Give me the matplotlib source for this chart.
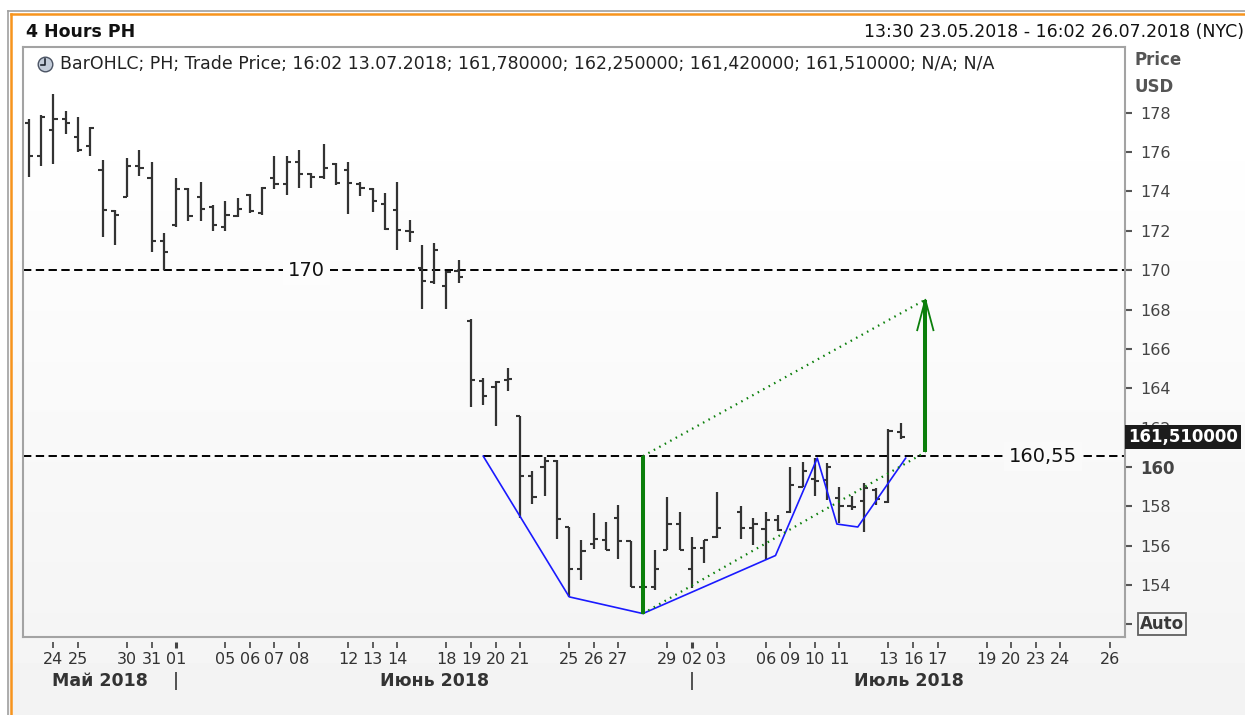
import numpy as np
import matplotlib
matplotlib.use('Agg')
import matplotlib.pyplot as plt
from matplotlib.lines import Line2D
from matplotlib.patches import Rectangle

plt.rcParams['font.family'] = ['DejaVu Sans']
plt.rcParams['lines.scale_dashes'] = False

# ------------------------------------------------------------------ data
trading_days = ['23.05', '24.05', '25.05', '29.05', '30.05', '31.05', '01.06', '04.06',
                '05.06', '06.06', '07.06', '08.06', '11.06', '12.06', '13.06', '14.06',
                '15.06', '18.06', '19.06', '20.06', '21.06', '22.06', '25.06', '26.06',
                '27.06', '28.06', '29.06', '02.07', '03.07', '05.07', '06.07', '09.07',
                '10.07', '11.07', '12.07', '13.07', '16.07', '17.07', '18.07', '19.07',
                '20.07', '23.07', '24.07', '25.07', '26.07']
short_sessions = ['03.07']          # days with a single 4-hour bar
last_bar_day = '13.07'

opens = [177.5, 175.8, 177.1, 177.7, 176.75, 176.3, 175.1, 173.0, 173.7, 175.3,
         174.7, 171.5, 172.3, 174.1, 173.7, 173.2, 172.2, 172.75, 173.8, 172.9,
         174.7, 174.4, 175.5, 174.9, 174.75, 175.4, 175.1, 174.4, 174.1, 173.35,
         173.05, 172.0, 170.1, 169.4, 169.2, 169.95, 167.4, 164.35, 164.05, 164.4,
         162.6, 159.55, 160.0, 160.3, 156.95, 154.8, 156.1, 156.3, 157.4, 156.25,
         153.9, 153.9, 155.8, 157.1, 154.8, 155.9, 156.45,
         157.7, 156.9, 156.85, 157.3, 157.7, 159.0, 159.4, 159.35, 158.4, 158.0,
         158.25, 158.85, 158.2, 161.78]
highs = [177.7, 177.9, 178.95, 178.1, 177.8, 177.3, 175.6, 173.05, 175.7, 176.1,
         175.5, 171.9, 174.7, 174.2, 174.5, 173.3, 173.5, 173.65, 173.85, 174.25,
         175.8, 175.8, 176.1, 174.95, 176.4, 175.45, 175.5, 174.5, 174.2, 173.9,
         174.5, 172.55, 171.3, 171.4, 169.95, 170.5, 167.5, 164.5, 164.35, 165.05,
         162.6, 159.8, 160.5, 160.35, 156.95, 156.3, 157.65, 157.2, 158.05, 156.25,
         154.4, 155.8, 158.45, 157.7, 156.45, 156.3, 158.75,
         158.0, 157.4, 157.7, 157.55, 160.0, 160.25, 160.45, 160.2, 159.0, 158.55,
         159.2, 158.95, 161.95, 162.25]
lows = [174.75, 175.3, 175.4, 176.9, 176.0, 175.8, 171.7, 171.3, 173.7, 174.8,
        170.9, 170.0, 172.2, 172.5, 172.5, 172.0, 172.0, 172.7, 172.9, 172.8,
        174.1, 173.8, 174.2, 174.2, 174.65, 174.35, 172.85, 173.75, 172.95, 172.05,
        171.05, 171.45, 168.05, 169.3, 168.05, 169.35, 163.05, 163.15, 162.1, 163.85,
        157.4, 158.1, 158.5, 156.35, 153.4, 154.25, 155.85, 155.8, 155.3, 153.88,
        152.55, 153.75, 155.78, 155.78, 153.83, 155.13, 156.37,
        156.35, 156.05, 155.25, 156.75, 157.65, 159.0, 158.5, 158.3, 157.15, 157.8,
        156.7, 158.05, 158.15, 161.42]
closes = [175.8, 177.8, 177.7, 177.5, 176.1, 177.2, 173.05, 172.8, 175.3, 175.2,
          171.5, 170.9, 174.1, 172.75, 173.1, 172.3, 172.8, 173.1, 173.0, 174.2,
          174.4, 175.5, 174.9, 174.75, 175.2, 174.45, 174.45, 174.2, 173.5, 172.1,
          172.05, 171.95, 169.45, 171.0, 169.9, 169.65, 164.4, 163.6, 164.3, 164.45,
          159.55, 158.45, 160.3, 157.35, 154.8, 155.75, 156.35, 155.8, 156.25, 153.9,
          153.9, 154.8, 157.1, 155.8, 155.9, 156.28, 156.9,
          156.9, 157.1, 157.3, 156.8, 159.1, 159.8, 159.3, 160.0, 158.0, 157.95,
          158.95, 158.35, 161.85, 161.51]

tick_days = ['24.05', '25.05', '30.05', '31.05', '01.06', '05.06', '06.06', '07.06',
             '08.06', '12.06', '13.06', '14.06', '18.06', '19.06', '20.06', '21.06',
             '25.06', '26.06', '27.06', '29.06', '02.07', '03.07', '06.07', '09.07',
             '10.07', '11.07', '13.07', '16.07', '17.07', '19.07', '20.07', '23.07',
             '24.07', '26.07']
month_starts = ['01.06', '02.07']
month_labels = ['Май 2018', 'Июнь 2018', 'Июль 2018']

price_ticks = [154, 156, 158, 160, 162, 164, 166, 168, 170, 172, 174, 176, 178]
bold_tick = 160
last_price = 161.51
last_price_label = '161,510000'

level_resist = 170.0
level_neck = 160.55
level_labels = ['170', '160,55']

# pattern drawn on the chart (positions in trading-day units)
pattern_x = [18.5, 22.0, 25.0, 30.4, 32.1, 32.9, 33.75, 35.7]
pattern_y = [160.55, 153.4, 152.55, 155.5, 160.45, 157.1, 156.95, 160.45]
depth_x = 25.0
depth_lo, depth_hi = 152.55, 160.55
target_x = 36.5
target_lo, target_hi = 160.75, 168.5

title = '4 Hours PH'
period = '13:30 23.05.2018 - 16:02 26.07.2018 (NYC)'
legend_text = ('BarOHLC; PH; Trade Price; 16:02 13.07.2018; 161,780000; 162,250000; '
               '161,420000; 161,510000; N/A; N/A')

# ------------------------------------------------------------------ layout helpers
W, H = 1245, 715
AX_L, AX_R, AX_T, AX_B = 23, 1125, 47, 637


def fx(px):
    return px / W


def fy(py):
    return 1 - py / H


def axx(px):
    return (px - AX_L) / (AX_R - AX_L)


def axy(py):
    return (AX_B - py) / (AX_B - AX_T)


fig = plt.figure(figsize=(W / 100, H / 100), dpi=100)

# background gradient
bg = fig.add_axes([0, 0, 1, 1], zorder=-10)
bg.axis('off')
rows = np.arange(H)
vals = np.clip(255 - (rows - 110) / (H - 110) * 12, 243, 255) / 255
img = np.repeat(vals[:, None], 2, axis=1)
bg.imshow(img, cmap='gray', vmin=0, vmax=1, aspect='auto', extent=[0, 1, 0, 1])
bg.set_xlim(0, 1)
bg.set_ylim(0, 1)
bg.add_patch(Rectangle((0, fy(11)), 1, 1 - fy(11), color='white', lw=0))
bg.add_patch(Rectangle((0, 0), fx(8), 1, color='white', lw=0))

# window frame
fig.add_artist(Line2D([fx(8), 1], [fy(11), fy(11)], color='#a0a0a0', lw=1.2))
fig.add_artist(Line2D([fx(8), fx(8)], [0, fy(11)], color='#a0a0a0', lw=1.2))
fig.add_artist(Line2D([fx(10.5), 1], [fy(13.8), fy(13.8)], color='#f7941d', lw=1.8))
fig.add_artist(Line2D([fx(10.5), fx(10.5)], [0, fy(13.8)], color='#f7941d', lw=1.8))

fig.text(fx(26), fy(32), title, fontsize=12.5, fontweight='bold', va='center', ha='left',
         color='#111111')
fig.text(fx(1244), fy(32), period, fontsize=12.5, va='center', ha='right', color='#111111')
fig.text(fx(1135), fy(60), 'Price', fontsize=12, fontweight='bold', va='center',
         color='#555555')
fig.text(fx(1135), fy(87), 'USD', fontsize=12, fontweight='bold', va='center',
         color='#555555')

# ------------------------------------------------------------------ main axes
ax = fig.add_axes([fx(AX_L), fy(AX_B), (AX_R - AX_L) / W, (AX_B - AX_T) / H])
ax.set_facecolor('none')
ax.set_xlim(-0.238, 44.63)
ax.set_ylim(151.36, 181.34)
for sp in ax.spines.values():
    sp.set_color('#a3a3a3')
    sp.set_linewidth(1.5)

day_pos = {d: i for i, d in enumerate(trading_days)}
bar_x = []
for d in trading_days[:day_pos[last_bar_day] + 1]:
    n = 1 if d in short_sessions else 2
    for k in range(n):
        bar_x.append(day_pos[d] + 0.5 * k)
bar_x = np.array(bar_x)

bar_col = '#333333'
tl = 0.17
ax.vlines(bar_x, lows, highs, color=bar_col, lw=1.6, zorder=3)
ax.hlines(opens, bar_x - tl, bar_x, color=bar_col, lw=1.5, zorder=3)
ax.hlines(closes, bar_x, bar_x + tl, color=bar_col, lw=1.5, zorder=3)

# horizontal levels
for lvl in (level_resist, level_neck):
    ax.axhline(lvl, color='black', lw=1.4, dashes=(6, 3.2), zorder=2)
ax.text(11.3, level_resist, level_labels[0], fontsize=14, ha='center', va='center',
        color='#111111', zorder=4,
        bbox=dict(boxstyle='square,pad=0.25', fc='#fdfdfd', ec='none'))
ax.text(41.3, level_neck, level_labels[1], fontsize=14, ha='center', va='center',
        color='#111111', zorder=4,
        bbox=dict(boxstyle='square,pad=0.25', fc='#fafafa', ec='none'))

# pattern
green = '#0b7f0b'
ax.plot(pattern_x, pattern_y, color='#1a1aff', lw=1.2, zorder=5)
ax.plot([depth_x, target_x], [depth_hi, target_hi], color=green, lw=1.6,
        dashes=(1.1, 3.4), zorder=5)
ax.plot([depth_x, target_x], [depth_lo, target_lo], color=green, lw=1.6,
        dashes=(1.1, 3.4), zorder=5)
ax.plot([depth_x, depth_x], [depth_lo, depth_hi], color=green, lw=2.9, zorder=6,
        solid_capstyle='butt')
ax.plot([target_x, target_x], [target_lo, target_hi], color=green, lw=2.9, zorder=6,
        solid_capstyle='butt')
ax.plot([target_x - 0.33, target_x, target_x + 0.33],
        [target_hi - 1.55, target_hi, target_hi - 1.55], color=green, lw=1.3, zorder=6)

# right price axis
ax.yaxis.tick_right()
ax.set_yticks(price_ticks + [152])
ax.set_yticklabels([str(t) for t in price_ticks] + [''])
ax.tick_params(axis='y', direction='out', length=5, width=1.5, color='#555555', pad=6,
               labelsize=11.5, labelcolor='#444444')
for lab, t in zip(ax.get_yticklabels(), price_ticks):
    if t == bold_tick:
        lab.set_fontweight('bold')
        lab.set_fontsize(12)

ax.text(1.0025, last_price, last_price_label, transform=ax.get_yaxis_transform(),
        fontsize=12, fontweight='bold', color='white', ha='left', va='center', zorder=10,
        clip_on=False,
        bbox=dict(boxstyle='square,pad=0.18', fc='#1c1c1c', ec='none'))
ax.text(axx(1140), 152.0, 'Auto', transform=ax.get_yaxis_transform(), fontsize=12,
        fontweight='bold', color='#3a3a3a', ha='left', va='center', clip_on=False,
        bbox=dict(boxstyle='square,pad=0.12', fc='#f6f6f6', ec='#606060', lw=1.3))

# date axis
ax.set_xticks([])
xt = ax.get_xaxis_transform()
tick_pos = [day_pos[d] for d in tick_days]
bold_pos = [day_pos[d] for d in month_starts]
ax.vlines([p for p in tick_pos if p not in bold_pos], axy(648), axy(642), transform=xt,
          color='#444444', lw=1.2, clip_on=False)
ax.vlines(bold_pos, axy(648), axy(642), transform=xt, color='#444444', lw=2.2,
          clip_on=False)
for p, d in zip(tick_pos, tick_days):
    ax.text(p, axy(659), d[:2], transform=xt, fontsize=11.5, ha='center', va='center',
            color='#333333', clip_on=False)
ax.vlines(bold_pos, axy(690), axy(672), transform=xt, color='#444444', lw=1.3,
          clip_on=False)
xl = ax.get_xlim()
bounds = [xl[0]] + bold_pos + [xl[1]]
for i, lab in enumerate(month_labels):
    ax.text((bounds[i] + bounds[i + 1]) / 2, axy(681), lab, transform=xt, fontsize=12.5,
            fontweight='bold', ha='center', va='center', color='#333333', clip_on=False)

# legend line with clock icon
ax.text(axx(60), axy(64), legend_text, transform=ax.transAxes, fontsize=12.5,
        ha='left', va='center', color='#222222')
ax.plot([axx(45)], [axy(64)], 'o', transform=ax.transAxes, ms=10.5, mfc='#c3ccd9',
        mec='#4a5363', mew=1.0, zorder=6)
ax.plot([axx(45), axx(45), axx(41)], [axy(59), axy(64.5), axy(64.5)],
        transform=ax.transAxes, color='#1f2630', lw=1.2, zorder=7)

fig.savefig('out.png', dpi=100)
